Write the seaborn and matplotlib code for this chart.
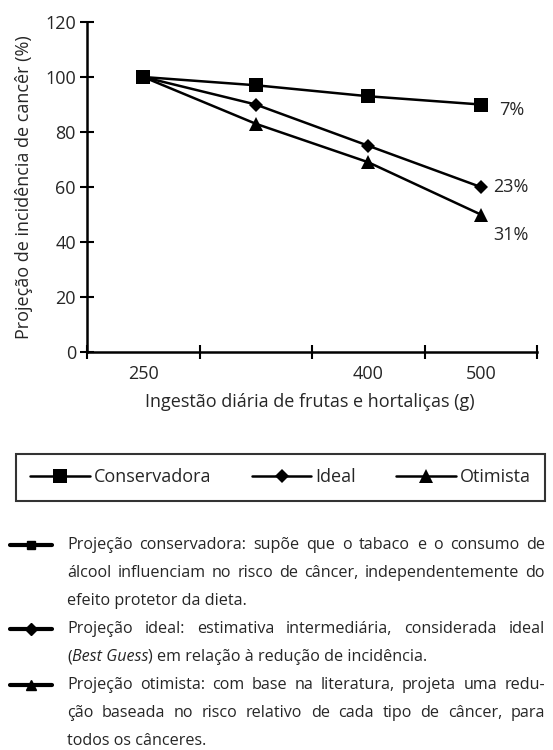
import pandas as pd
import matplotlib.pyplot as plt
import seaborn as sns
from matplotlib.lines import Line2D

# ── DATA ──────────────────────────────────────────
x_labels = ["250", "", "400", "500"]
conservadora = [100, 97, 93, 90]
ideal = [100, 90, 75, 60]
otimista = [100, 83, 69, 50]
series_names = ["Conservadora", "Ideal", "Otimista"]
end_labels = ["7%", "23%", "31%"]
y_ticks = [0, 20, 40, 60, 80, 100, 120]

notes = [
    ["Projeção conservadora: supõe que o tabaco e o consumo de",
     "álcool influenciam no risco de câncer, independentemente do",
     "efeito protetor da dieta."],
    ["Projeção ideal: estimativa intermediária, considerada ideal",
     [("(", "normal"), ("Best Guess", "italic"), (") em relação à redução de incidência.", "normal")]],
    ["Projeção otimista: com base na literatura, projeta uma redu-",
     "ção baseada no risco relativo de cada tipo de câncer, para",
     "todos os cânceres."],
]

df = pd.DataFrame({
    "pos": list(range(4)) * 3,
    "valor": conservadora + ideal + otimista,
    "serie": [s for s in series_names for _ in range(4)],
})

# ── STYLE ─────────────────────────────────────────
sns.set_style("ticks")
plt.rcParams["font.family"] = ["Open Sans", "DejaVu Sans"]
FS = 13
FS_NOTE = 11.6

W, H = 553, 750
fig = plt.figure(figsize=(W / 100, H / 100), dpi=100)
ax = fig.add_axes([87 / W, 1 - 352 / H, (537 - 87) / W, (352 - 22) / H])

markers = {"Conservadora": "s", "Ideal": "D", "Otimista": "^"}
sns.lineplot(data=df, x="pos", y="valor", hue="serie", style="serie",
             markers=markers, dashes=False, palette=["black"] * 3,
             linewidth=1.8, markersize=10, markeredgewidth=0,
             legend=False, ax=ax, clip_on=False)
msize = {"s": 10, "D": 7.5, "^": 10.5}
for ln in ax.lines:
    m = ln.get_marker()
    if m in msize:
        ln.set_markersize(msize[m])

# end labels
for vals, lab, off in zip([conservadora, ideal, otimista], end_labels,
                          [(13, -4), (9, 0), (9, -15)]):
    ax.annotate(lab, (3, vals[-1]), xytext=off, textcoords="offset points",
                ha="left", va="center", fontsize=FS)

ax.set_xlim(-0.5, 3.5)
ax.set_ylim(0, 120)
ax.set_yticks(y_ticks)
ax.set_xticks([-0.5, 0.5, 1.5, 2.5, 3.5])
ax.set_xticklabels([])
ax.set_xticks(range(4), minor=True)
ax.set_xticklabels(x_labels, minor=True)
ax.tick_params(axis="x", which="minor", length=0, pad=9, labelsize=FS)
ax.tick_params(axis="both", which="major", direction="inout", length=10,
               width=1.5, labelsize=FS, color="black")
ax.tick_params(axis="y", pad=3)
for sp in ["top", "right"]:
    ax.spines[sp].set_visible(False)
for sp in ["left", "bottom"]:
    ax.spines[sp].set_linewidth(1.8)
    ax.spines[sp].set_color("black")

ax.set_xlabel("")
ax.set_ylabel("Projeção de incidência de cancêr (%)", fontsize=FS, labelpad=9)
fig.text(310 / W, 1 - 402 / H, "Ingestão diária de frutas e hortaliças (g)",
         ha="center", va="center", fontsize=FS)

# legend
handles = [Line2D([], [], color="black", lw=1.8, marker=m, markersize=msize[m],
                  markeredgewidth=0) for m in ["s", "D", "^"]]
leg = fig.legend(handles, series_names, loc="center",
                 bbox_to_anchor=(16 / W, 1 - 503 / H, 529 / W, 51 / H), mode="expand",
                 ncol=3, frameon=True, fancybox=False, edgecolor="black",
                 fontsize=FS, handlelength=3.3, handletextpad=0.2, columnspacing=1.5,
                 borderpad=0.8, borderaxespad=0)
leg.get_frame().set_linewidth(1.5)

# ── NOTES (justified text) ────────────────────────
fig.canvas.draw()
renderer = fig.canvas.get_renderer()
x0, x1 = 67, 545
line_h = 28
y = 545
icon_m = ["s", "D", "^"]
icon_ms = [5.5, 6, 7]

def put(x, y, s, style="normal"):
    t = fig.text(x / W, 1 - y / H, s, ha="left", va="center", fontsize=FS_NOTE, style=style)
    return t.get_window_extent(renderer).width

for k, para in enumerate(notes):
    icon = Line2D([10 / W, 31 / W, 52 / W], [1 - y / H] * 3, color="black", lw=3,
                  marker=icon_m[k], markersize=icon_ms[k], markevery=[1],
                  transform=fig.transFigure)
    fig.add_artist(icon)
    for i, line in enumerate(para):
        last = i == len(para) - 1
        if isinstance(line, list):
            x = x0
            for seg, st in line:
                x += put(x, y, seg, st)
        elif last:
            put(x0, y, line)
        else:
            words = line.split(" ")
            tmp = [fig.text(0, 0, w_, fontsize=FS_NOTE) for w_ in words]
            widths = [t.get_window_extent(renderer).width for t in tmp]
            for t in tmp:
                t.remove()
            gap = (x1 - x0 - sum(widths)) / (len(words) - 1)
            x = x0
            for w_, wd in zip(words, widths):
                put(x, y, w_)
                x += wd + gap
        y += line_h

fig.savefig("out.png", dpi=100)
